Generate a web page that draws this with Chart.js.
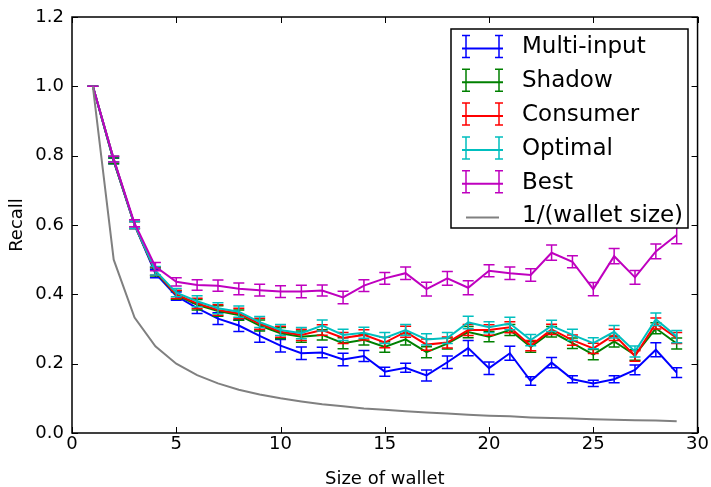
<!DOCTYPE html>
<html>
<head>
<meta charset="utf-8">
<script src="https://cdn.jsdelivr.net/npm/chart.js@4"></script>
<style>
  html, body { margin: 0; padding: 0; background: #fff; }
  canvas { display: block; }
</style>
</head>
<body>
<canvas id="myChart" width="711" height="487"></canvas>
<script>
// wallet size on the x axis
const walletSizes = [1, 2, 3, 4, 5, 6, 7, 8, 9, 10, 11, 12, 13, 14, 15, 16, 17, 18, 19, 20, 21, 22, 23, 24, 25, 26, 27, 28, 29];

const multiInput = [1.0, 0.785, 0.6, 0.46, 0.395, 0.36, 0.33, 0.31, 0.28, 0.252, 0.23, 0.232, 0.212, 0.222, 0.177, 0.188, 0.166, 0.204, 0.245, 0.187, 0.23, 0.15, 0.203, 0.155, 0.143, 0.155, 0.182, 0.24, 0.174];
const multiInputErr = [0, 0.008, 0.01, 0.012, 0.012, 0.015, 0.017, 0.017, 0.018, 0.018, 0.018, 0.015, 0.018, 0.016, 0.013, 0.013, 0.016, 0.018, 0.022, 0.018, 0.02, 0.012, 0.015, 0.01, 0.009, 0.01, 0.014, 0.02, 0.014];

const shadow = [1.0, 0.785, 0.6, 0.465, 0.398, 0.37, 0.352, 0.34, 0.31, 0.288, 0.278, 0.283, 0.259, 0.269, 0.248, 0.27, 0.233, 0.258, 0.291, 0.278, 0.297, 0.248, 0.292, 0.259, 0.226, 0.264, 0.225, 0.302, 0.258];
const shadowErr = [0, 0.008, 0.01, 0.012, 0.012, 0.015, 0.015, 0.015, 0.016, 0.016, 0.016, 0.015, 0.016, 0.015, 0.015, 0.016, 0.016, 0.016, 0.016, 0.015, 0.016, 0.015, 0.015, 0.015, 0.015, 0.016, 0.015, 0.016, 0.016];

const consumer = [1.0, 0.79, 0.6, 0.467, 0.4, 0.374, 0.355, 0.345, 0.315, 0.292, 0.283, 0.297, 0.274, 0.283, 0.261, 0.292, 0.255, 0.261, 0.297, 0.297, 0.305, 0.252, 0.299, 0.268, 0.244, 0.283, 0.222, 0.316, 0.274];
const consumerErr = [0, 0.008, 0.01, 0.012, 0.012, 0.015, 0.015, 0.015, 0.016, 0.016, 0.016, 0.015, 0.016, 0.015, 0.015, 0.016, 0.016, 0.016, 0.016, 0.015, 0.016, 0.015, 0.015, 0.015, 0.015, 0.016, 0.015, 0.016, 0.016];

const optimal = [1.0, 0.79, 0.6, 0.468, 0.405, 0.38, 0.36, 0.35, 0.32, 0.297, 0.288, 0.31, 0.283, 0.289, 0.274, 0.297, 0.27, 0.274, 0.319, 0.305, 0.316, 0.268, 0.309, 0.283, 0.259, 0.292, 0.235, 0.328, 0.278];
const optimalErr = [0, 0.008, 0.01, 0.012, 0.012, 0.016, 0.016, 0.016, 0.016, 0.016, 0.016, 0.016, 0.016, 0.016, 0.016, 0.016, 0.016, 0.016, 0.018, 0.016, 0.018, 0.016, 0.016, 0.016, 0.016, 0.018, 0.016, 0.018, 0.018];

const best = [1.0, 0.79, 0.605, 0.48, 0.436, 0.427, 0.425, 0.416, 0.412, 0.408, 0.408, 0.411, 0.391, 0.425, 0.446, 0.461, 0.415, 0.446, 0.419, 0.468, 0.461, 0.456, 0.52, 0.494, 0.415, 0.51, 0.449, 0.524, 0.571];
const bestErr = [0, 0.008, 0.01, 0.012, 0.012, 0.015, 0.016, 0.017, 0.017, 0.017, 0.018, 0.016, 0.018, 0.017, 0.017, 0.018, 0.02, 0.02, 0.02, 0.017, 0.018, 0.018, 0.022, 0.017, 0.019, 0.022, 0.02, 0.021, 0.025];

const inverseSize = [1.0, 0.5, 0.333, 0.25, 0.2, 0.167, 0.143, 0.125, 0.111, 0.1, 0.091, 0.083, 0.077, 0.071, 0.067, 0.0625, 0.059, 0.056, 0.053, 0.05, 0.048, 0.045, 0.043, 0.042, 0.04, 0.038, 0.037, 0.036, 0.034];

const xTicks = [0, 5, 10, 15, 20, 25, 30];
const yTicks = [0.0, 0.2, 0.4, 0.6, 0.8, 1.0, 1.2];

const FONT = "'DejaVu Sans', sans-serif";

function points(values) {
    return walletSizes.map((s, i) => ({ x: s, y: values[i] }));
}

function series(label, values, errs, color, order) {
    return {
        label: label,
        data: points(values),
        errors: errs,
        borderColor: color,
        backgroundColor: color,
        borderWidth: 2,
        pointRadius: 0,
        tension: 0,
        fill: false,
        order: order
    };
}

// error bars, drawn right after each line so stacking follows the line order
const errorBars = {
    id: 'errorBars',
    afterDatasetDraw(chart, args) {
        const ds = chart.data.datasets[args.index];
        if (!ds.errors) return;
        const ctx = chart.ctx;
        const yScale = chart.scales.y;
        ctx.save();
        ctx.strokeStyle = ds.borderColor;
        ctx.lineWidth = 1.5;
        args.meta.data.forEach((pt, i) => {
            const v = ds.data[i].y;
            const e = ds.errors[i];
            const top = yScale.getPixelForValue(v + e);
            const bot = yScale.getPixelForValue(v - e);
            ctx.beginPath();
            ctx.moveTo(pt.x, top);
            ctx.lineTo(pt.x, bot);
            ctx.moveTo(pt.x - 5.5, top);
            ctx.lineTo(pt.x + 5.5, top);
            ctx.moveTo(pt.x - 5.5, bot);
            ctx.lineTo(pt.x + 5.5, bot);
            ctx.stroke();
        });
        ctx.restore();
    }
};

// box round the plot with inward ticks on all four sides
const frame = {
    id: 'frame',
    afterDatasetsDraw(chart) {
        const ctx = chart.ctx;
        const a = chart.chartArea;
        const xs = chart.scales.x, ys = chart.scales.y;
        ctx.save();
        ctx.strokeStyle = '#000';
        ctx.lineWidth = 1;
        ctx.beginPath();
        xTicks.forEach(t => {
            const px = Math.round(xs.getPixelForValue(t)) + 0.5;
            ctx.moveTo(px, a.bottom); ctx.lineTo(px, a.bottom - 6);
            ctx.moveTo(px, a.top); ctx.lineTo(px, a.top + 6);
        });
        yTicks.forEach(t => {
            const py = Math.round(ys.getPixelForValue(t)) + 0.5;
            ctx.moveTo(a.left, py); ctx.lineTo(a.left + 6, py);
            ctx.moveTo(a.right, py); ctx.lineTo(a.right - 6, py);
        });
        ctx.stroke();
        ctx.lineWidth = 1.5;
        ctx.strokeRect(a.left, a.top, a.right - a.left, a.bottom - a.top);
        ctx.restore();
    }
};

// legend box in the upper right, matplotlib style
const boxLegend = {
    id: 'boxLegend',
    afterDraw(chart) {
        const ctx = chart.ctx;
        const left = 451, top = 29, right = 688, bottom = 228;
        ctx.save();
        ctx.fillStyle = '#fff';
        ctx.fillRect(left, top, right - left, bottom - top);
        ctx.strokeStyle = '#000';
        ctx.lineWidth = 1.5;
        ctx.strokeRect(left, top, right - left, bottom - top);
        const entries = chart.data.datasets.slice().sort((p, q) => p.legendRank - q.legendRank);
        entries.forEach((ds, i) => {
            const cy = 46.5 + i * 33.8;
            ctx.strokeStyle = ds.borderColor;
            ctx.lineWidth = 2;
            ctx.beginPath();
            if (ds.errors) {
                ctx.moveTo(462, cy + 2); ctx.lineTo(503, cy + 2);
                ctx.stroke();
                ctx.lineWidth = 1.5;
                ctx.beginPath();
                [466, 499].forEach(x => {
                    ctx.moveTo(x, cy - 11); ctx.lineTo(x, cy + 11);
                    ctx.moveTo(x - 4, cy - 11); ctx.lineTo(x + 4, cy - 11);
                    ctx.moveTo(x - 4, cy + 11); ctx.lineTo(x + 4, cy + 11);
                });
            } else {
                ctx.moveTo(466, cy + 2); ctx.lineTo(499, cy + 2);
            }
            ctx.stroke();
            ctx.fillStyle = '#000';
            ctx.font = '23px ' + FONT;
            ctx.textBaseline = 'middle';
            ctx.textAlign = 'left';
            ctx.fillText(ds.label, 522, cy + 1);
        });
        ctx.restore();
    }
};

const datasets = [
    series('Multi-input', multiInput, multiInputErr, '#0000ff', 5),
    series('Shadow', shadow, shadowErr, '#008000', 4),
    series('Consumer', consumer, consumerErr, '#ff0000', 3),
    series('Optimal', optimal, optimalErr, '#00bfbf', 2),
    series('Best', best, bestErr, '#bf00bf', 1),
    series('1/(wallet size)', inverseSize, null, '#808080', 0)
];
datasets.forEach((d, i) => d.legendRank = i);

const ctx = document.getElementById('myChart');

new Chart(ctx, {
    type: 'line',
    data: { datasets: datasets },
    plugins: [errorBars, frame, boxLegend],
    options: {
        responsive: false,
        animation: false,
        layout: { padding: { top: 17, right: 13, left: 0, bottom: 0 } },
        plugins: {
            legend: { display: false },
            tooltip: { enabled: false }
        },
        scales: {
            x: {
                type: 'linear',
                min: 0,
                max: 30,
                afterFit: s => { s.height = 54; },
                afterBuildTicks: s => { s.ticks = xTicks.map(v => ({ value: v })); },
                ticks: {
                    color: '#000',
                    padding: 2,
                    font: { family: FONT, size: 18, lineHeight: 1 },
                    callback: v => String(v)
                },
                grid: { display: false, drawTicks: false },
                border: { display: false },
                title: {
                    display: true,
                    text: 'Size of wallet',
                    color: '#000',
                    font: { family: FONT, size: 18, lineHeight: 1 },
                    padding: { top: 0, bottom: -1 }
                }
            },
            y: {
                type: 'linear',
                min: 0,
                max: 1.2,
                afterFit: s => { s.width = 72; },
                afterBuildTicks: s => { s.ticks = yTicks.map(v => ({ value: v })); },
                ticks: {
                    color: '#000',
                    padding: 8,
                    font: { family: FONT, size: 18, lineHeight: 1 },
                    callback: v => Number(v).toFixed(1)
                },
                grid: { display: false, drawTicks: false },
                border: { display: false },
                title: {
                    display: true,
                    text: 'Recall',
                    color: '#000',
                    font: { family: FONT, size: 18, lineHeight: 1 },
                    padding: { top: 8, bottom: 0 }
                }
            }
        }
    }
});
</script>
</body>
</html>
